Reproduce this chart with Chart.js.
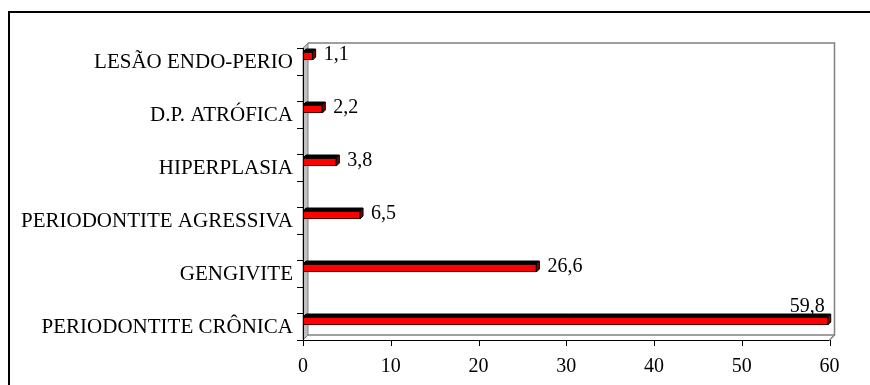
<!DOCTYPE html>
<html>
<head>
<meta charset="utf-8">
<script src="https://cdn.jsdelivr.net/npm/chart.js@4/dist/chart.umd.min.js"></script>
<style>
  html, body { margin: 0; padding: 0; background: #ffffff; overflow: hidden; }
  #wrap { position: relative; width: 870px; height: 385px; }
</style>
</head>
<body>
<div id="wrap"><canvas id="c" width="870" height="385"></canvas></div>
<script>
// ---- data ----
const categories = ["LESÃO ENDO-PERIO", "D.P. ATRÓFICA", "HIPERPLASIA", "PERIODONTITE AGRESSIVA", "GENGIVITE", "PERIODONTITE CRÔNICA"];
const values = [1.1, 2.2, 3.8, 6.5, 26.6, 59.8];
const xTickValues = [0, 10, 20, 30, 40, 50, 60];

const fmt = v => String(v).replace('.', ',');

const DEPTH = 5;       // 3D wall depth
const BAR_DEPTH = 3;   // 3D bar depth

const framePlugin = {
  id: 'frame3d',
  beforeDatasetsDraw(chart) {
    const ctx = chart.ctx, a = chart.chartArea, xs = chart.scales.x;
    const x0 = xs.getPixelForValue(0), x1 = xs.getPixelForValue(60);
    const yt = a.top + 18.5, yb = a.bottom - 7.5;
    ctx.save();
    // back wall outline
    ctx.strokeStyle = '#808080';
    ctx.lineWidth = 1.5;
    ctx.beginPath();
    ctx.moveTo(x0 + DEPTH, yt - DEPTH);
    ctx.lineTo(x1 + DEPTH, yt - DEPTH);
    ctx.lineTo(x1 + DEPTH, yb - DEPTH);
    ctx.lineTo(x0 + DEPTH, yb - DEPTH);
    ctx.stroke();
    // floor diagonal right
    ctx.beginPath();
    ctx.moveTo(x1 + DEPTH, yb - DEPTH);
    ctx.lineTo(x1, yb);
    ctx.stroke();
    // left wall
    ctx.fillStyle = '#c0c0c0';
    ctx.beginPath();
    ctx.moveTo(x0, yt);
    ctx.lineTo(x0 + DEPTH, yt - DEPTH);
    ctx.lineTo(x0 + DEPTH, yb - DEPTH);
    ctx.lineTo(x0, yb);
    ctx.closePath();
    ctx.fill();
    ctx.lineWidth = 1;
    ctx.stroke();
    ctx.restore();
  },
  afterDatasetsDraw(chart) {
    const ctx = chart.ctx, a = chart.chartArea, xs = chart.scales.x;
    const x0 = xs.getPixelForValue(0), x1 = xs.getPixelForValue(60);
    const yt = a.top + 18.5, yb = a.bottom - 7.5;
    const meta = chart.getDatasetMeta(0);
    ctx.save();
    // 3D faces of bars
    meta.data.forEach((bar) => {
      const p = bar.getProps(['x', 'y', 'base', 'height'], true);
      const top = p.y - p.height / 2, bot = p.y + p.height / 2;
      ctx.lineWidth = 1;
      ctx.strokeStyle = '#000';
      // top face
      ctx.fillStyle = '#000';
      ctx.beginPath();
      ctx.moveTo(p.base, top);
      ctx.lineTo(p.base + BAR_DEPTH, top - BAR_DEPTH);
      ctx.lineTo(p.x + BAR_DEPTH, top - BAR_DEPTH);
      ctx.lineTo(p.x, top);
      ctx.closePath();
      ctx.fill();
      ctx.stroke();
      // side face
      ctx.fillStyle = '#800000';
      ctx.beginPath();
      ctx.moveTo(p.x, top);
      ctx.lineTo(p.x + BAR_DEPTH, top - BAR_DEPTH);
      ctx.lineTo(p.x + BAR_DEPTH, bot - BAR_DEPTH);
      ctx.lineTo(p.x, bot);
      ctx.closePath();
      ctx.fill();
      ctx.stroke();
    });
    // data labels
    ctx.fillStyle = '#000';
    ctx.font = '20px "Liberation Serif", "Times New Roman", serif';
    meta.data.forEach((bar, i) => {
      const p = bar.getProps(['x', 'y', 'height'], true);
      const txt = fmt(values[i]);
      const w = ctx.measureText(txt).width;
      if (p.x + 12 + w > a.right) {
        ctx.textAlign = 'right';
        ctx.textBaseline = 'alphabetic';
        ctx.fillText(txt, p.x - 3, p.y - p.height / 2 - 5);
      } else {
        ctx.textAlign = 'left';
        ctx.textBaseline = 'middle';
        ctx.fillText(txt, p.x + 11, p.y - 1);
      }
    });
    // front axes
    ctx.strokeStyle = '#000';
    ctx.lineWidth = 1;
    ctx.beginPath();
    ctx.moveTo(x0 + 0.5, yt);
    ctx.lineTo(x0 + 0.5, yb + 0.5);
    ctx.lineTo(x1, yb + 0.5);
    ctx.stroke();
    // y ticks
    const n = 11;
    ctx.beginPath();
    for (let k = 0; k <= n; k++) {
      const y = Math.round(yt + k * (yb - yt) / n) + 0.5;
      ctx.moveTo(x0 - 6, y);
      ctx.lineTo(x0 + 0.5, y);
    }
    // x ticks
    xTickValues.forEach(v => {
      const x = Math.round(xs.getPixelForValue(v)) + 0.5;
      ctx.moveTo(x, yb);
      ctx.lineTo(x, yb + 6);
    });
    ctx.stroke();
    // outer border (top and left edges only visible)
    ctx.lineWidth = 2;
    ctx.strokeStyle = '#000';
    ctx.beginPath();
    ctx.moveTo(9, chart.height + 5);
    ctx.lineTo(9, 12);
    ctx.lineTo(chart.width + 5, 12);
    ctx.stroke();
    ctx.restore();
  }
};

new Chart(document.getElementById('c'), {
  type: 'bar',
  data: {
    labels: categories,
    datasets: [{
      data: values,
      backgroundColor: '#ff0000',
      borderColor: '#000000',
      borderWidth: 1,
      barThickness: 8,
      borderSkipped: false
    }]
  },
  options: {
    indexAxis: 'y',
    responsive: false,
    animation: false,
    devicePixelRatio: 1,
    layout: { padding: { top: 29.5, right: 40.5, left: 0, bottom: 0 } },
    plugins: { legend: { display: false }, tooltip: { enabled: false } },
    scales: {
      x: {
        type: 'linear',
        min: 0, max: 60,
        afterBuildTicks: (s) => { s.ticks = xTickValues.map(v => ({ value: v })); },
        afterFit: (s) => { s.height = 37.5; },
        grid: { display: false, drawTicks: false },
        border: { display: false },
        ticks: {
          padding: 7,
          color: '#000',
          font: { family: '"Liberation Serif", "Times New Roman", serif', size: 20 },
          maxRotation: 0,
          callback: (v) => String(v)
        }
      },
      y: {
        type: 'category',
        afterFit: (s) => { s.width = 303; },
        grid: { display: false, drawTicks: false },
        border: { display: false },
        ticks: {
          padding: 10,
          labelOffset: 6,
          color: '#000',
          font: { family: '"Liberation Serif", "Times New Roman", serif', size: 21 }
        }
      }
    }
  },
  plugins: [framePlugin]
});
</script>
</body>
</html>
